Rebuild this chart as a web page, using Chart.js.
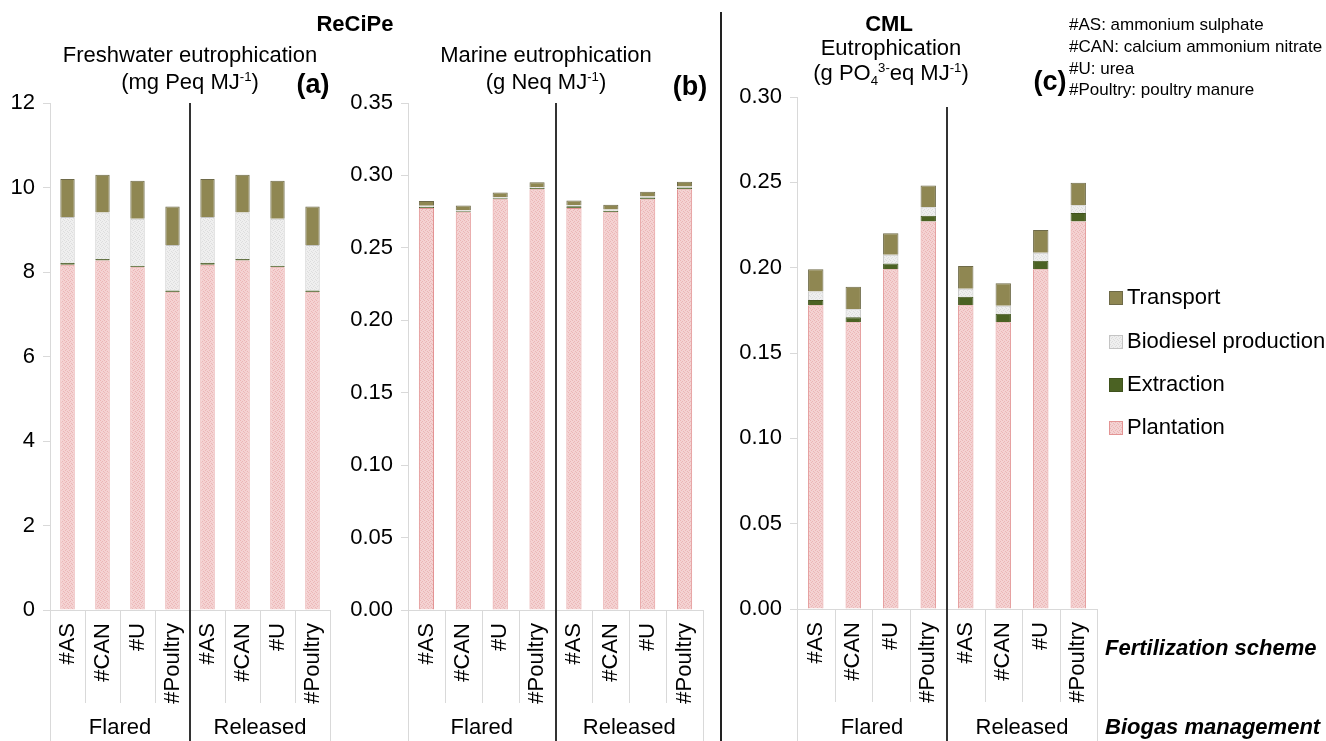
<!DOCTYPE html>
<html>
<head>
<meta charset="utf-8">
<script src="https://cdn.jsdelivr.net/npm/chart.js@4"></script>
<style>
    body { margin: 0; background: #fff; }
    #page { position: relative; width: 1326px; height: 741px; overflow: hidden; font-family: "Liberation Sans", Arial, sans-serif; color: #000; }
    .panel { position: absolute; top: 0; }
    .lbl { position: absolute; transform: translate(-50%, -50%); white-space: nowrap; font-size: 22px; line-height: 1; }
    .left { transform: translate(0, -50%); }
    .note { font-size: 17px; }
    .bold { font-weight: bold; }
    .tag { font-weight: bold; font-size: 27px; }
    .axisname { font-weight: bold; font-style: italic; font-size: 22px; }
    sup, sub { font-size: 0.6em; line-height: 0; position: relative; vertical-align: baseline; }
    sup { top: -0.6em; }
    sub { top: 0.35em; }
    #sep { position: absolute; left: 720px; top: 12px; width: 2px; height: 729px; background: #222; }
</style>
</head>
<body>
<div id="page">
    <div class="panel" style="left:0px"><canvas id="freshChart" width="340" height="741"></canvas></div>
    <div class="panel" style="left:340px"><canvas id="marineChart" width="370" height="741"></canvas></div>
    <div class="panel" style="left:722px"><canvas id="cmlChart" width="604" height="741"></canvas></div>
    <div id="sep"></div>

    <div class="lbl bold" style="left:355px; top:24px">ReCiPe</div>
    <div class="lbl" style="left:190px; top:55px">Freshwater eutrophication</div>
    <div class="lbl" style="left:190px; top:82px">(mg Peq MJ<sup>-1</sup>)</div>
    <div class="lbl tag" style="left:313px; top:84px">(a)</div>

    <div class="lbl" style="left:546px; top:55px">Marine eutrophication</div>
    <div class="lbl" style="left:546px; top:82px">(g Neq MJ<sup>-1</sup>)</div>
    <div class="lbl tag" style="left:690px; top:86px">(b)</div>

    <div class="lbl bold" style="left:889px; top:24px">CML</div>
    <div class="lbl" style="left:891px; top:48px">Eutrophication</div>
    <div class="lbl" style="left:891px; top:73px">(g PO<sub>4</sub><sup>3-</sup>eq MJ<sup>-1</sup>)</div>
    <div class="lbl tag" style="left:1050px; top:81px">(c)</div>

    <div class="lbl left note" style="left:1069px; top:24px">#AS: ammonium sulphate</div>
    <div class="lbl left note" style="left:1069px; top:46px">#CAN: calcium ammonium nitrate</div>
    <div class="lbl left note" style="left:1069px; top:68px">#U: urea</div>
    <div class="lbl left note" style="left:1069px; top:89px">#Poultry: poultry manure</div>

    <div class="lbl left axisname" style="left:1105px; top:648px">Fertilization scheme</div>
    <div class="lbl left axisname" style="left:1105px; top:727px">Biogas management</div>
</div>

<script>
// Categorías
const fertilizers = ['#AS', '#CAN', '#U', '#Poultry'];
const biogasGroups = ['Flared', 'Released'];
const categories = ['#AS', '#CAN', '#U', '#Poultry', '#AS', '#CAN', '#U', '#Poultry'];
const stageNames = ['Plantation', 'Extraction', 'Biodiesel production', 'Transport'];

// (a) Freshwater eutrophication, mg Peq/MJ (Flared x4, Released x4)
const freshPlantation = [8.17, 8.27, 8.11, 7.52, 8.17, 8.27, 8.11, 7.52];
const freshExtraction = [0.05, 0.04, 0.04, 0.04, 0.05, 0.04, 0.04, 0.04];
const freshBiodiesel = [1.08, 1.10, 1.11, 1.08, 1.08, 1.10, 1.11, 1.08];
const freshTransport = [0.90, 0.89, 0.90, 0.91, 0.90, 0.89, 0.90, 0.91];
const freshTicks = [0, 2, 4, 6, 8, 10, 12];

// (b) Marine eutrophication, g Neq/MJ
const marinePlantation = [0.2775, 0.2745, 0.2835, 0.2905, 0.2775, 0.2745, 0.2835, 0.2905];
const marineExtraction = [0.0008, 0.0008, 0.0008, 0.0008, 0.0012, 0.0012, 0.0012, 0.0012];
const marineBiodiesel = [0.0007, 0.0007, 0.0007, 0.0007, 0.0007, 0.0007, 0.0007, 0.0007];
const marineTransport = [0.0033, 0.0033, 0.0033, 0.0033, 0.0033, 0.0033, 0.0033, 0.0033];
const marineTicks = [0, 0.05, 0.10, 0.15, 0.20, 0.25, 0.30, 0.35];

// (c) CML eutrophication, g PO4 3- eq/MJ
const cmlPlantation = [0.178, 0.168, 0.199, 0.227, 0.178, 0.168, 0.199, 0.227];
const cmlExtraction = [0.003, 0.003, 0.0035, 0.0034, 0.005, 0.005, 0.005, 0.005];
const cmlBiodiesel = [0.005, 0.0047, 0.005, 0.005, 0.0047, 0.0047, 0.0047, 0.0045];
const cmlTransport = [0.013, 0.0131, 0.0127, 0.0127, 0.0133, 0.0132, 0.0134, 0.0132];
const cmlTicks = [0, 0.05, 0.10, 0.15, 0.20, 0.25, 0.30];

Chart.defaults.font.family = '"Liberation Sans", Arial, sans-serif';
Chart.defaults.color = '#000';

// Patrón punteado para las barras claras
function makePattern(base, dots) {
    const tile = document.createElement('canvas');
    tile.width = 4;
    tile.height = 4;
    const t = tile.getContext('2d');
    t.fillStyle = base;
    t.fillRect(0, 0, 4, 4);
    t.fillStyle = dots;
    t.fillRect(0, 0, 1, 1);
    t.fillRect(2, 1, 1, 1);
    t.fillRect(1, 2, 1, 1);
    t.fillRect(3, 3, 1, 1);
    return document.createElement('canvas').getContext('2d').createPattern(tile, 'repeat');
}

const plantationFill = makePattern('#f4d2d2', '#ebb6b6');
const biodieselFill = makePattern('#efefef', '#dddddd');

const stageStyles = [
    { fill: plantationFill, border: '#e39494' },
    { fill: '#4b6223', border: '#3f521d' },
    { fill: biodieselFill, border: '#c4c4c4' },
    { fill: '#8f8752', border: '#6e6a48' }
];

/*******
Eje de dos niveles, separadores y leyenda
*******/
const groupAxisPlugin = {
    id: 'groupAxis',
    afterDraw(chart, args, opts) {
        const c = chart.ctx;
        const area = chart.chartArea;
        const x = chart.scales.x;
        const H = chart.height;
        const half = (x.getPixelForValue(1) - x.getPixelForValue(0)) / 2;
        c.save();

        // eje y
        c.strokeStyle = '#d9d9d9';
        c.lineWidth = 1;
        c.beginPath();
        c.moveTo(Math.round(area.left) + 0.5, area.top);
        c.lineTo(Math.round(area.left) + 0.5, H);
        c.stroke();

        // eje x
        c.beginPath();
        c.moveTo(area.left - 7, Math.round(area.bottom) + 0.5);
        c.lineTo(area.right, Math.round(area.bottom) + 0.5);
        c.stroke();

        // separadores de categoría
        for (let i = 1; i <= categories.length; i++) {
            if (i === 4) continue;
            const bx = Math.round(x.getPixelForValue(i - 1) + half) + 0.5;
            c.beginPath();
            c.moveTo(bx, area.bottom);
            c.lineTo(bx, i === categories.length ? H : area.bottom + 93);
            c.stroke();
        }

        // línea entre Flared y Released
        const gx = Math.round(x.getPixelForValue(3) + half);
        c.strokeStyle = '#333';
        c.lineWidth = 2;
        c.beginPath();
        c.moveTo(gx, area.top + opts.dividerOffset);
        c.lineTo(gx, H);
        c.stroke();

        // etiquetas de categoría rotadas
        c.fillStyle = '#000';
        c.font = '22px "Liberation Sans", Arial, sans-serif';
        c.textAlign = 'right';
        c.textBaseline = 'middle';
        categories.forEach((label, i) => {
            c.save();
            c.translate(x.getPixelForValue(i), area.bottom + 13);
            c.rotate(-Math.PI / 2);
            c.fillText(label, 0, 0);
            c.restore();
        });

        // etiquetas de grupo
        c.textAlign = 'center';
        biogasGroups.forEach((g, k) => {
            const gxCenter = (x.getPixelForValue(k * 4) + x.getPixelForValue(k * 4 + 3)) / 2;
            c.fillText(g, gxCenter, 728);
        });

        // leyenda (solo panel c)
        if (opts.legend) {
            const order = [3, 2, 1, 0];
            const ys = [298, 342, 385, 428];
            c.textAlign = 'left';
            order.forEach((s, k) => {
                const st = stageStyles[s];
                c.fillStyle = st.fill;
                c.fillRect(opts.legend.x, ys[k] - 7, 14, 14);
                c.strokeStyle = st.border;
                c.lineWidth = 1;
                c.strokeRect(opts.legend.x + 0.5, ys[k] - 6.5, 13, 13);
                c.fillStyle = '#000';
                c.fillText(stageNames[s], opts.legend.x + 18, ys[k]);
            });
        }
        c.restore();
    }
};

function makeChart(canvasId, series, ticks, decimals, box) {
    const ctx = document.getElementById(canvasId).getContext('2d');
    return new Chart(ctx, {
        type: 'bar',
        data: {
            labels: categories,
            datasets: series.map((values, s) => ({
                label: stageNames[s],
                data: values,
                backgroundColor: stageStyles[s].fill,
                borderColor: stageStyles[s].border,
                borderWidth: 1,
                barPercentage: 0.41,
                categoryPercentage: 1
            }))
        },
        options: {
            responsive: false,
            animation: false,
            layout: {
                padding: { left: 0, right: box.right, top: box.top, bottom: box.bottom }
            },
            scales: {
                x: {
                    display: false,
                    stacked: true
                },
                y: {
                    stacked: true,
                    min: 0,
                    max: ticks[ticks.length - 1],
                    afterBuildTicks: (scale) => { scale.ticks = ticks.map(v => ({ value: v })); },
                    afterFit: (scale) => { scale.width = box.axisWidth; },
                    border: { display: false },
                    grid: {
                        drawOnChartArea: false,
                        drawTicks: true,
                        tickLength: 7,
                        color: '#d9d9d9'
                    },
                    ticks: {
                        padding: 8,
                        font: { size: 22 },
                        color: '#000',
                        callback: (value) => Number(value).toFixed(decimals)
                    }
                }
            },
            plugins: {
                legend: { display: false },
                tooltip: { enabled: false },
                groupAxis: { dividerOffset: box.dividerOffset, legend: box.legend }
            }
        },
        plugins: [groupAxisPlugin]
    });
}

document.addEventListener('DOMContentLoaded', function () {
    window.freshChart = makeChart('freshChart',
        [freshPlantation, freshExtraction, freshBiodiesel, freshTransport], freshTicks, 0,
        { axisWidth: 50, right: 10, top: 103, bottom: 131, dividerOffset: 0 });

    window.marineChart = makeChart('marineChart',
        [marinePlantation, marineExtraction, marineBiodiesel, marineTransport], marineTicks, 2,
        { axisWidth: 68, right: 7, top: 103, bottom: 131, dividerOffset: 0 });

    window.cmlChart = makeChart('cmlChart',
        [cmlPlantation, cmlExtraction, cmlBiodiesel, cmlTransport], cmlTicks, 2,
        { axisWidth: 75, right: 229, top: 97, bottom: 132, dividerOffset: 10, legend: { x: 387 } });
});
</script>
</body>
</html>
